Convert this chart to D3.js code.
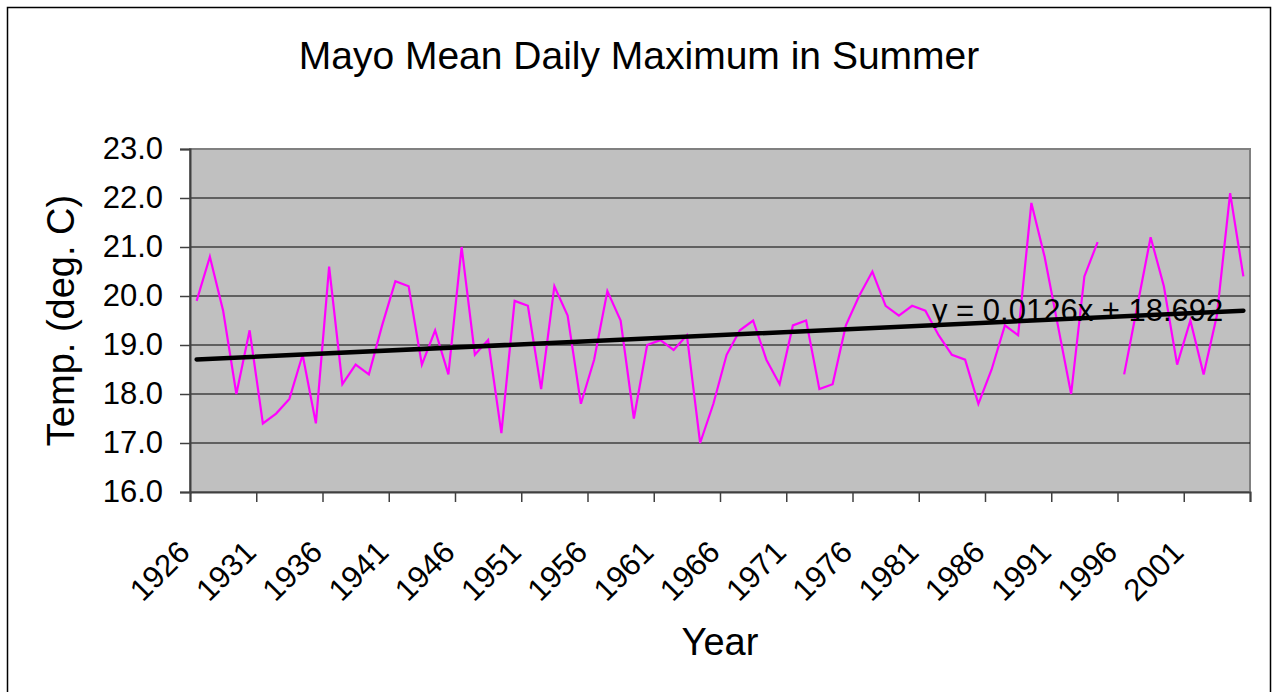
<!DOCTYPE html>
<html>
<head>
<meta charset="utf-8">
<script src="https://cdn.jsdelivr.net/npm/d3@7"></script>
<style>
  body { margin: 0; background: #fff; }
  text { font-family: "Liberation Sans", Arial, sans-serif; fill: #000; }
</style>
</head>
<body>
<script>
const width = 1274;
const height = 692;

// data (1995 has no value)
const years = d3.range(1926, 2006);
const temps = [
  19.9, 20.8, 19.7, 18.0, 19.3, 17.4, 17.6, 17.9, 18.8, 17.4,
  20.6, 18.2, 18.6, 18.4, 19.4, 20.3, 20.2, 18.6, 19.3, 18.4,
  21.0, 18.8, 19.1, 17.2, 19.9, 19.8, 18.1, 20.2, 19.6, 17.8,
  18.7, 20.1, 19.5, 17.5, 19.0, 19.1, 18.9, 19.2, 17.0, 17.8,
  18.8, 19.3, 19.5, 18.7, 18.2, 19.4, 19.5, 18.1, 18.2, 19.4,
  20.0, 20.5, 19.8, 19.6, 19.8, 19.7, 19.2, 18.8, 18.7, 17.8,
  18.5, 19.4, 19.2, 21.9, 20.8, 19.4, 18.0, 20.4, 21.1, null,
  18.4, 19.8, 21.2, 20.2, 18.6, 19.5, 18.4, 19.6, 22.1, 20.4
];
const yTicks = [16, 17, 18, 19, 20, 21, 22, 23];
const labelYears = d3.range(1926, 2006, 5);

// trendline y = 0.0126x + 18.692 (x = point number)
const slope = 0.0126;
const intercept = 18.692;

const data = years.map((yr, i) => ({ year: yr, i, t: temps[i] }));

const plot = { left: 190, right: 1250, top: 149, bottom: 492 };

const x = d3.scaleLinear().domain([0, years.length]).range([plot.left, plot.right]);
const y = d3.scaleLinear().domain([16, 23]).range([plot.bottom, plot.top]);

const svg = d3.select("body").append("svg")
  .attr("width", width)
  .attr("height", height);

// chart border
svg.append("rect")
  .attr("x", 7.5).attr("y", 7.5)
  .attr("width", 1263).attr("height", 700)
  .attr("fill", "#fff")
  .attr("stroke", "#000")
  .attr("stroke-width", 1.5);

svg.append("text")
  .attr("x", 639).attr("y", 69)
  .attr("text-anchor", "middle")
  .attr("font-size", 39)
  .text("Mayo Mean Daily Maximum in Summer");

// plot area
svg.append("rect")
  .attr("x", plot.left).attr("y", plot.top)
  .attr("width", plot.right - plot.left)
  .attr("height", plot.bottom - plot.top)
  .attr("fill", "#c0c0c0")
  .attr("stroke", "#808080")
  .attr("stroke-width", 2);

svg.append("g")
  .selectAll("line")
  .data(yTicks.filter((d) => d > 16 && d < 23))
  .join("line")
  .attr("x1", plot.left).attr("x2", plot.right)
  .attr("y1", (d) => y(d)).attr("y2", (d) => y(d))
  .attr("stroke", "#000")
  .attr("stroke-width", 1);

// y axis
const yAxis = svg.append("g")
  .attr("transform", `translate(${plot.left},0)`)
  .call(d3.axisLeft(y).tickValues(yTicks).tickFormat(d3.format(".1f")).tickSize(10).tickPadding(17));
yAxis.select(".domain").attr("stroke", "#404040").attr("stroke-width", 2);
yAxis.selectAll(".tick line").attr("stroke", "#404040").attr("stroke-width", 1.5);
yAxis.selectAll(".tick text")
  .attr("font-size", 31)
  .attr("font-family", '"Liberation Sans", Arial, sans-serif')
  .attr("fill", "#000");

// x axis (category boundaries every 5 years)
const xAxis = svg.append("g")
  .attr("transform", `translate(0,${plot.bottom})`)
  .call(d3.axisBottom(x).tickValues(d3.range(0, years.length + 1, 5)).tickFormat("").tickSize(10));
xAxis.select(".domain").attr("stroke", "#404040").attr("stroke-width", 2);
xAxis.selectAll(".tick line").attr("stroke", "#404040").attr("stroke-width", 1.5);

svg.append("g")
  .selectAll("text")
  .data(labelYears)
  .join("text")
  .attr("transform", (d) => `translate(${x(years.indexOf(d) + 0.5) - 5},554) rotate(-45)`)
  .attr("text-anchor", "end")
  .attr("font-size", 31)
  .text((d) => d);

svg.append("text")
  .attr("x", (plot.left + plot.right) / 2).attr("y", 655)
  .attr("text-anchor", "middle")
  .attr("font-size", 38)
  .text("Year");

svg.append("text")
  .attr("transform", `translate(74,${(plot.top + plot.bottom) / 2}) rotate(-90)`)
  .attr("text-anchor", "middle")
  .attr("font-size", 38)
  .text("Temp. (deg. C)");

// series
const line = d3.line()
  .defined((d) => d.t != null)
  .x((d) => x(d.i + 0.5))
  .y((d) => y(d.t));

svg.append("path")
  .datum(data)
  .attr("fill", "none")
  .attr("stroke", "#ff00ff")
  .attr("stroke-width", 2.2)
  .attr("stroke-linejoin", "miter")
  .attr("d", line);

// trendline
const trend = [1, years.length].map((n) => ({ n, t: slope * n + intercept }));
svg.append("path")
  .datum(trend)
  .attr("fill", "none")
  .attr("stroke", "#000")
  .attr("stroke-width", 4.5)
  .attr("stroke-linecap", "round")
  .attr("d", d3.line().x((d) => x(d.n - 0.5)).y((d) => y(d.t)));

svg.append("text")
  .attr("x", 932).attr("y", 321)
  .attr("font-size", 31)
  .text(`y = ${slope}x + ${intercept}`);
</script>
</body>
</html>
